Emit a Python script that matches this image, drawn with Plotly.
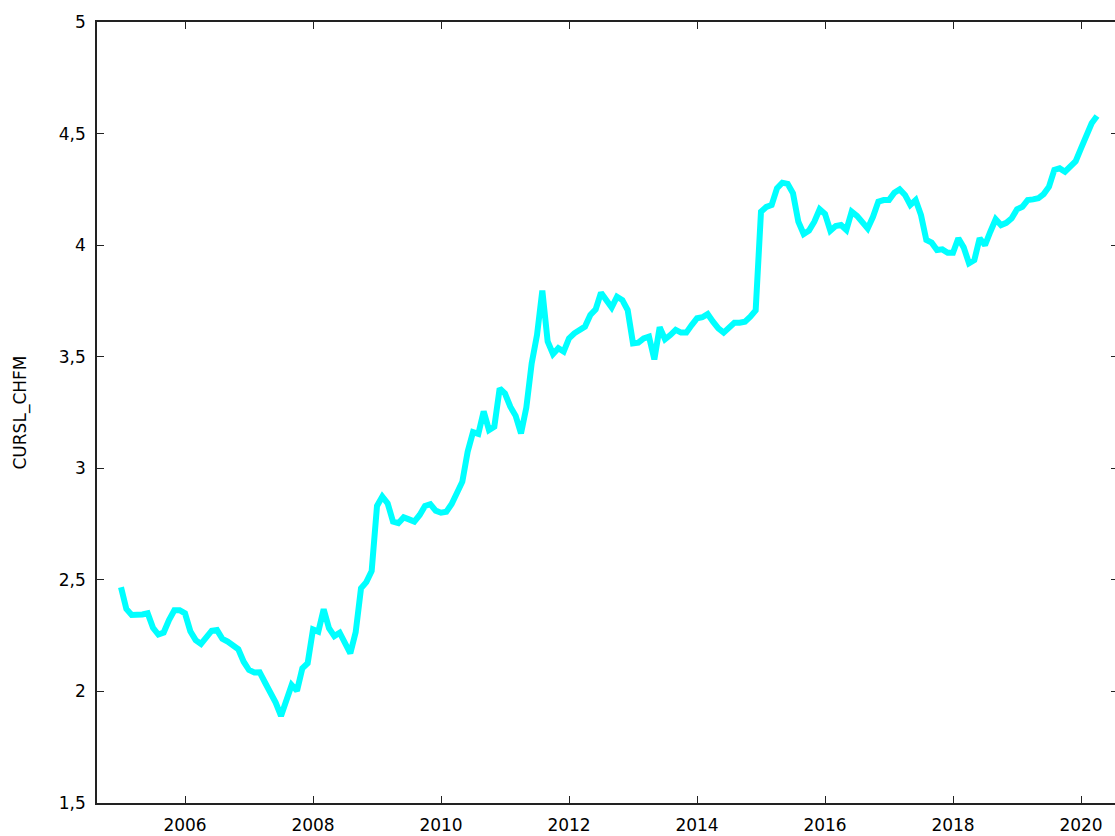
import plotly.graph_objects as go

# Monthly series, Jan 2005 .. Apr 2020
start_year = 2005
values = [
    2.467, 2.37, 2.343, 2.343, 2.345, 2.35, 2.285, 2.255, 2.264, 2.32, 2.364, 2.364,
    2.35, 2.27, 2.23, 2.213, 2.245, 2.272, 2.275, 2.236, 2.223, 2.208, 2.189, 2.133,
    2.096, 2.085, 2.086, 2.04, 1.995, 1.95, 1.89, 1.962, 2.029, 2.003, 2.104, 2.126,
    2.278, 2.268, 2.368, 2.283, 2.248, 2.263, 2.215, 2.171, 2.265, 2.462, 2.49, 2.54,
    2.831, 2.873, 2.843, 2.761, 2.754, 2.78, 2.771, 2.761, 2.791, 2.831, 2.839, 2.81,
    2.801, 2.805, 2.84, 2.895, 2.94, 3.074, 3.162, 3.154, 3.255, 3.171, 3.186, 3.358,
    3.335, 3.276, 3.235, 3.156, 3.272, 3.47, 3.597, 3.796, 3.568, 3.512, 3.538, 3.523,
    3.582, 3.605, 3.62, 3.635, 3.687, 3.712, 3.787, 3.754, 3.721, 3.769, 3.754, 3.709,
    3.56, 3.563, 3.582, 3.59, 3.488, 3.632, 3.578, 3.597, 3.62, 3.608, 3.608, 3.642,
    3.672, 3.677, 3.691, 3.657, 3.627, 3.608, 3.632, 3.652, 3.652, 3.657, 3.679, 3.708,
    4.15, 4.171, 4.18, 4.255, 4.28, 4.275, 4.232, 4.105, 4.05, 4.065, 4.105, 4.161,
    4.14, 4.065, 4.086, 4.09, 4.068, 4.15, 4.131, 4.105, 4.075, 4.127, 4.195, 4.202,
    4.202, 4.235, 4.25, 4.225, 4.18, 4.202, 4.135, 4.023, 4.011, 3.978, 3.981, 3.966,
    3.966, 4.031, 3.99, 3.919, 3.933, 4.031, 4.0, 4.06, 4.116, 4.09, 4.1, 4.12,
    4.161, 4.172, 4.202, 4.205, 4.21, 4.229, 4.262, 4.337, 4.344, 4.329, 4.349, 4.376,
    4.434, 4.486, 4.546, 4.579,
]
x_ticks = [2006, 2008, 2010, 2012, 2014, 2016, 2018, 2020]
y_ticks = [1.5, 2, 2.5, 3, 3.5, 4, 4.5, 5]
y_title = "CURSL_CHFM"

months = [start_year + i / 12 for i in range(len(values))]

FONT = "DejaVu Sans"
W, H = 1115, 836
ML, MR, MT, MB = 97, 0, 22, 33
x0 = 2004.625
x1 = x0 + (W - ML - MR) / 64.0

fig = go.Figure()
fig.add_trace(go.Scatter(
    x=months, y=values, mode="lines",
    line=dict(color="#00FFFF", width=6, shape="linear"),
    showlegend=False, hoverinfo="skip",
))
# invisible trace to activate the right-side tick axis
fig.add_trace(go.Scatter(x=[months[0]], y=[values[0]], yaxis="y2",
                         mode="markers", marker=dict(opacity=0),
                         showlegend=False, hoverinfo="skip"))

fig.update_layout(
    width=W, height=H,
    margin=dict(l=ML, r=MR, t=MT, b=MB, pad=0, autoexpand=False),
    paper_bgcolor="white", plot_bgcolor="white",
    separators=", ",
    font=dict(family=FONT, size=17, color="black"),
    xaxis=dict(
        range=[x0, x1], tickvals=x_ticks, ticktext=[str(v) for v in x_ticks],
        ticks="inside", ticklen=7, tickwidth=1, tickcolor="#222",
        showline=True, linecolor="#222", linewidth=1.5, mirror="ticks",
        showgrid=False, zeroline=False, ticklabelstandoff=6, automargin=False,
    ),
    yaxis=dict(
        range=[1.5, 5], tickvals=y_ticks,
        ticks="inside", ticklen=7, tickwidth=1, tickcolor="#222",
        showline=True, linecolor="#222", linewidth=1.5, mirror=False,
        showgrid=False, zeroline=False, ticklabelstandoff=6, automargin=False,
    ),
    yaxis2=dict(
        range=[1.5, 5], tickvals=y_ticks, overlaying="y", side="right",
        anchor="x", ticks="inside", ticklen=4, tickwidth=1, tickcolor="#222",
        showticklabels=False, showline=False, showgrid=False, zeroline=False,
        automargin=False,
    ),
    annotations=[dict(
        text=y_title, textangle=-90, xref="paper", yref="paper",
        x=(20 - ML) / (W - ML - MR), y=0.5, xanchor="center", yanchor="middle",
        showarrow=False, font=dict(family=FONT, size=17, color="black"),
    )],
)

fig.write_html("out.html")
